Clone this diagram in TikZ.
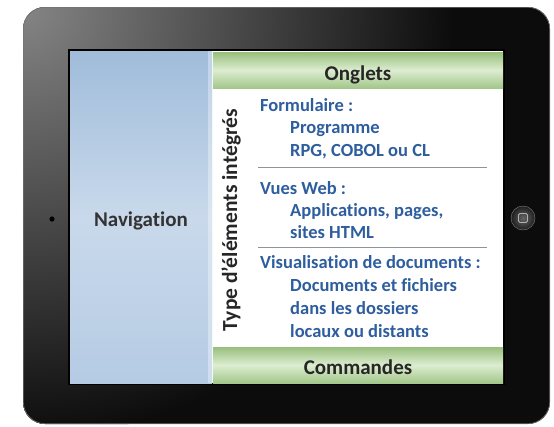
\documentclass[tikz,border=0pt]{standalone}
\usepackage{fontspec}
\setmainfont{Carlito}[Ligatures={NoCommon,NoRare}]
\definecolor{itemblue}{HTML}{2E5E9E}
\definecolor{sepgray}{HTML}{8E9499}
\definecolor{gtop}{HTML}{98BE7C}
\definecolor{gmid}{HTML}{DCEDD0}
\definecolor{gbot}{HTML}{A3C78B}
\definecolor{btop}{HTML}{A0BCDA}
\definecolor{bmid}{HTML}{C9D9EB}
\definecolor{bbot}{HTML}{B5CBE4}
\definecolor{framelight}{HTML}{858585}
\definecolor{framedark}{HTML}{0C0C0C}
\begin{document}
\begin{tikzpicture}[x=1pt,y=-1pt,
  hdr/.style={font=\bfseries\fontsize{21}{21}\selectfont, text=black!85, anchor=base, inner sep=0pt},
  item/.style={font=\bfseries\fontsize{18.5}{18.5}\selectfont, text=itemblue, anchor=base west, inner sep=0pt},
  sepline/.style={draw=sepgray, line width=1.2pt},
  greenbar/.style={top color=gtop, bottom color=gbot, middle color=gmid, draw=none}]
\useasboundingbox (0,0) rectangle (554,426);
% tablet body
\begin{scope}
  \clip[rounded corners=22pt] (23,7) rectangle (550,424);
  \fill[framedark] (23,7) rectangle (550,424);
  \shade[inner color=framelight, outer color=framedark] (23,7) circle (430);
\end{scope}
\draw[black!55, line width=0.6pt, rounded corners=22pt] (23.3,7.3) rectangle (549.7,423.7);
% screen
\fill[black] (68,49) rectangle (505,385);
\fill[white] (70,51) rectangle (503,383);
\shade[top color=btop, bottom color=bbot, middle color=bmid] (70,51) rectangle (212,383);
\fill[white, opacity=0.35] (208,51) rectangle (212,383);
\shade[greenbar] (213,52) rectangle (503,88);
\shade[greenbar] (213,347) rectangle (503,383);
% camera and home button
\fill[black] (52,219) circle (2.6);
\shade[inner color=black!60, outer color=black!88, draw=black!50] (523,218) circle (12);
\draw[black!30, line width=0.9pt, rounded corners=1.5pt] (518.5,213.5) rectangle (527.5,222.5);
% texts
\node[hdr] (onglets) at (358,80) {Onglets};
\node[hdr] (commandes) at (358,374) {Commandes};
\node[hdr, text=black!80] (nav) at (141,226) {Navigation};
\node[font=\bfseries\fontsize{21.5}{21.5}\selectfont, text=black!85, anchor=base, rotate=90, inner sep=0pt] (type) at (237,220) {Type d'éléments intégrés};
\node[item] (f1) at (260,111) {Formulaire :};
\node[item] (f2) at (290,133.5) {Programme};
\node[item] (f3) at (290,156) {RPG, COBOL ou CL};
\draw[sepline] (258,167.5) -- (487,167.5);
\node[item] (v1) at (260,194) {Vues Web :};
\node[item] (v2) at (290,216.5) {Applications, pages,};
\node[item] (v3) at (290,238) {sites HTML};
\draw[sepline] (258,247.5) -- (487,247.5);
\node[item] (d1) at (260,268.5) {Visualisation de documents :};
\node[item] (d2) at (290,291.5) {Documents et fichiers};
\node[item] (d3) at (290,314) {dans les dossiers};
\node[item] (d4) at (290,337) {locaux ou distants};
\end{tikzpicture}
\end{document}
